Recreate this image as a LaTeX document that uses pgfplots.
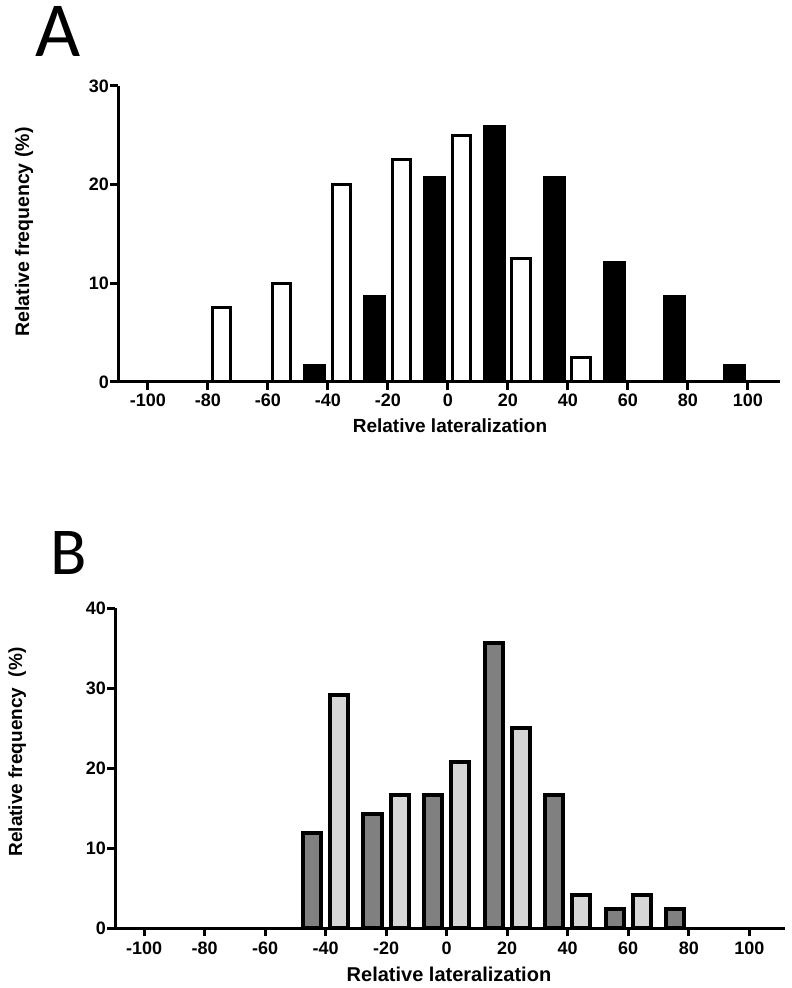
\documentclass[border=0pt]{standalone}
\usepackage{fontspec}
\setmainfont{Liberation Sans}
\newfontfamily\letterfont{Carlito}
\usepackage{pgfplots}
\pgfplotsset{compat=1.18}
\definecolor{darkbar}{RGB}{128,128,128}
\definecolor{lightbar}{RGB}{214,214,214}

\pgfplotsset{
  histo/.style={
    scale only axis,
    axis lines=left,
    axis line style={-, line width=3pt},
    tick align=outside,
    major tick length=8pt,
    tick style={line width=3pt, black},
    xtick={-100,-80,...,100},
    tick label style={font=\fontsize{18}{18}\selectfont\bfseries},
    yticklabel style={inner xsep=1pt},
    /pgf/number format/assume math mode=true,
    clip=false,
    ymin=0,
  },
}

\begin{document}
\begin{tikzpicture}
\path[use as bounding box] (0,0) rectangle (792pt,988pt);

% panel A
\begin{axis}[histo,
  at={(118pt,606pt)}, anchor=south west,
  width=662pt, height=296pt,
  xmin=-110, xmax=110.7, ymax=30,
  ytick={0,10,20,30},
  ]
  % open bars
  \addplot[ybar, bar width=6.3, fill=white, draw=black, line width=3pt]
    coordinates {(-75.5,7.5) (-55.5,10) (-35.5,20) (-15.5,22.5) (4.5,25) (24.5,12.5) (44.5,2.5)};
  % filled bars
  \addplot[ybar, bar width=6.5, fill=black, draw=black, line width=3pt]
    coordinates {(-44.5,1.72) (-24.5,8.62) (-4.5,20.69) (15.5,25.86) (35.5,20.69) (55.5,12.07) (75.5,8.62) (95.5,1.72)};
\end{axis}

% panel B
\begin{axis}[histo,
  at={(115pt,59.7pt)}, anchor=south west,
  width=670pt, height=320pt,
  xmin=-109.6, xmax=111.8, ymax=40,
  ytick={0,10,20,30,40},
  xticklabel style={yshift=-2pt},
  ]
  \addplot[ybar, bar width=6, fill=darkbar, draw=black, line width=4pt]
    coordinates {(-44.5,11.90) (-24.5,14.29) (-4.5,16.67) (15.5,35.71) (35.5,16.67) (55.5,2.38) (75.5,2.38)};
  \addplot[ybar, bar width=6, fill=lightbar, draw=black, line width=4pt]
    coordinates {(-35.5,29.17) (-15.5,16.67) (4.5,20.83) (24.5,25.00) (44.5,4.17) (64.5,4.17)};
\end{axis}

\node[anchor=base west, inner sep=0, font=\letterfont\fontsize{78}{78}\selectfont] at (35pt,931pt) {A};
\node[anchor=base west, inner sep=0, font=\letterfont\fontsize{67}{67}\selectfont] at (50pt,413pt) {B};

\node[rotate=90, anchor=base, inner sep=0, font=\bfseries\fontsize{19.5}{20}\selectfont] at (29pt,756pt) {Relative frequency (\%)};
\node[anchor=base, inner sep=0, font=\bfseries\fontsize{19}{20}\selectfont] at (450pt,555pt) {Relative lateralization};
\node[rotate=90, anchor=base, inner sep=0, font=\bfseries\fontsize{19}{20}\selectfont] at (22pt,236pt) {Relative frequency\ \ (\%)};
\node[anchor=base, inner sep=0, font=\bfseries\fontsize{20}{21}\selectfont] at (449pt,6pt) {Relative lateralization};
\end{tikzpicture}
\end{document}
